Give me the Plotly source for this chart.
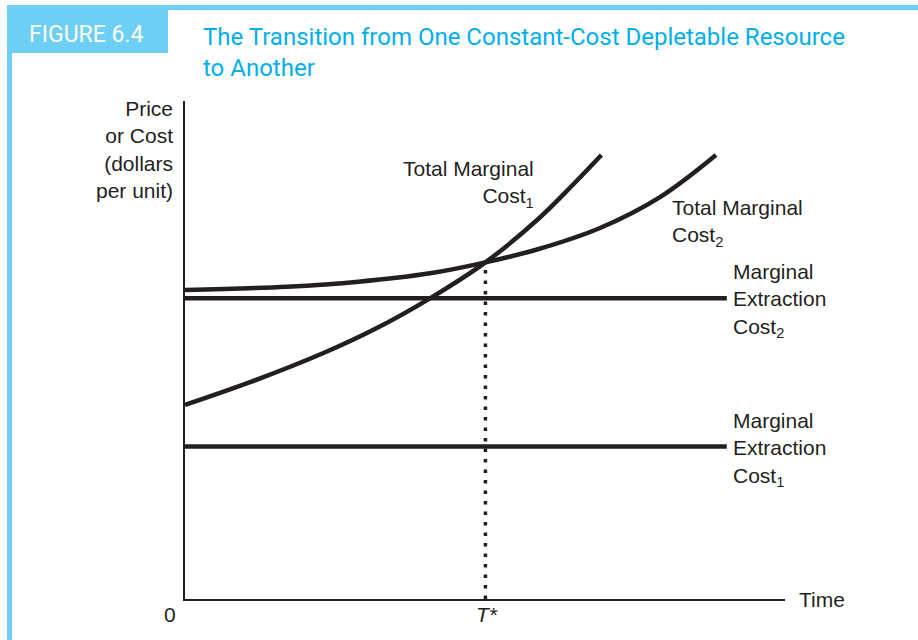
import plotly.graph_objects as go

# ---- data ----
tmc1_x = [0, 11.07, 22.98, 31.9, 40.83, 50.07, 58.68, 64.65, 69.4]
tmc1_y = [38.96, 43.63, 49.34, 54.36, 60.38, 67.6, 76.1, 83.19, 89.16]

tmc2_x = [0, 17.02, 28.93, 40.83, 50.07, 58.67, 69.17, 79.17, 88.5]
tmc2_y = [62.05, 62.71, 63.71, 65.4, 67.6, 70.18, 74.5, 80.7, 89.16]

mec_x = [0, 90.3]
mec2_y = [60.4, 60.4]
mec1_y = [30.6, 30.6]

t_star = 50.07
t_star_y = 67.6

INK = "#231f20"
FONT = "Liberation Sans, Arial, Helvetica, sans-serif"
COND = "Roboto, Liberation Sans Narrow, sans-serif"
LIGHT_BLUE = "#6dcff6"
TITLE_BLUE = "#00aeef"

W, H = 918, 640
ML, MR, MT, MB = 185, 133, 101, 41

fig = go.Figure()

fig.add_trace(go.Scatter(x=[t_star, t_star], y=[0, t_star_y], mode="lines",
                         line=dict(color=INK, width=3.5, dash="3.5px,7px"),
                         hoverinfo="skip"))
for ys in (mec2_y, mec1_y):
    fig.add_trace(go.Scatter(x=mec_x, y=ys, mode="lines",
                             line=dict(color=INK, width=4.5), hoverinfo="skip"))
fig.add_trace(go.Scatter(x=tmc1_x, y=tmc1_y, mode="lines",
                         line=dict(color=INK, width=4.5, shape="spline", smoothing=1.0),
                         hoverinfo="skip"))
fig.add_trace(go.Scatter(x=tmc2_x, y=tmc2_y, mode="lines",
                         line=dict(color=INK, width=4.5, shape="spline", smoothing=1.0),
                         hoverinfo="skip"))

def px_x(p):  # pixel -> paper x
    return (p - ML) / (W - ML - MR)

def px_y(p):  # pixel -> paper y
    return (H - MB - p) / (H - MT - MB)

shapes = [
    dict(type="rect", xref="paper", yref="paper", x0=px_x(7), x1=px_x(918),
         y0=px_y(10), y1=px_y(5), fillcolor=LIGHT_BLUE, line=dict(width=0), layer="above"),
    dict(type="rect", xref="paper", yref="paper", x0=px_x(7), x1=px_x(12),
         y0=px_y(640), y1=px_y(5), fillcolor=LIGHT_BLUE, line=dict(width=0), layer="above"),
    dict(type="rect", xref="paper", yref="paper", x0=px_x(7), x1=px_x(168),
         y0=px_y(53), y1=px_y(5), fillcolor=LIGHT_BLUE, line=dict(width=0), layer="above"),
]

lab = dict(size=21, color=INK, family=FONT)
ann = [
    dict(text="FIGURE 6.4", xref="paper", yref="paper", x=px_x(86), y=px_y(35),
         xanchor="center", yanchor="middle", showarrow=False,
         font=dict(size=23, color="white", family=COND)),
    dict(text="The Transition from One Constant-Cost Depletable Resource<br>to Another",
         xref="paper", yref="paper", x=px_x(201), y=px_y(21), xanchor="left", yanchor="top",
         align="left", showarrow=False,
         font=dict(size=24, color=TITLE_BLUE, family=COND)),
    dict(text="Price<br>or Cost<br>(dollars<br>per unit)", xref="paper", yref="paper",
         x=0, xshift=-10, y=1, yshift=6, xanchor="right", yanchor="top", align="right",
         showarrow=False, font=lab),
    dict(text="Total Marginal<br>Cost<sub>1</sub>", x=58.5, y=83.4, xanchor="right",
         yanchor="middle", align="right", showarrow=False, font=lab),
    dict(text="Total Marginal<br>Cost<sub>2</sub>", x=80.8, y=75.6, xanchor="left",
         yanchor="middle", align="left", showarrow=False, font=lab),
    dict(text="Marginal<br>Extraction<br>Cost<sub>2</sub>", x=91.0, y=60.0, xanchor="left",
         yanchor="middle", align="left", showarrow=False, font=lab),
    dict(text="Marginal<br>Extraction<br>Cost<sub>1</sub>", x=91.0, y=30.0, xanchor="left",
         yanchor="middle", align="left", showarrow=False, font=lab),
    dict(text="Time", xref="paper", x=1, xshift=12, y=0, yshift=0, xanchor="left",
         yanchor="middle", showarrow=False, font=lab),
    dict(text="0", x=0, xshift=-15, y=0, yshift=-15, xanchor="center", yanchor="middle",
         showarrow=False, font=lab),
    dict(text="<i>T*</i>", x=t_star, xshift=2, y=0, yshift=-15, xanchor="center",
         yanchor="middle", showarrow=False, font=lab),
]

fig.update_layout(
    width=W, height=H, margin=dict(l=ML, r=MR, t=MT, b=MB),
    paper_bgcolor="white", plot_bgcolor="white", showlegend=False,
    shapes=shapes, annotations=ann,
    xaxis=dict(range=[0, 100], showgrid=False, zeroline=False, showticklabels=False,
               ticks="", showline=True, linecolor=INK, linewidth=1.5, fixedrange=True),
    yaxis=dict(range=[0, 100], showgrid=False, zeroline=False, showticklabels=False,
               ticks="", showline=True, linecolor=INK, linewidth=1.5, fixedrange=True),
)

fig.write_html("out.html", config={"displayModeBar": False},
               post_script="document.body.style.margin='0px';")
